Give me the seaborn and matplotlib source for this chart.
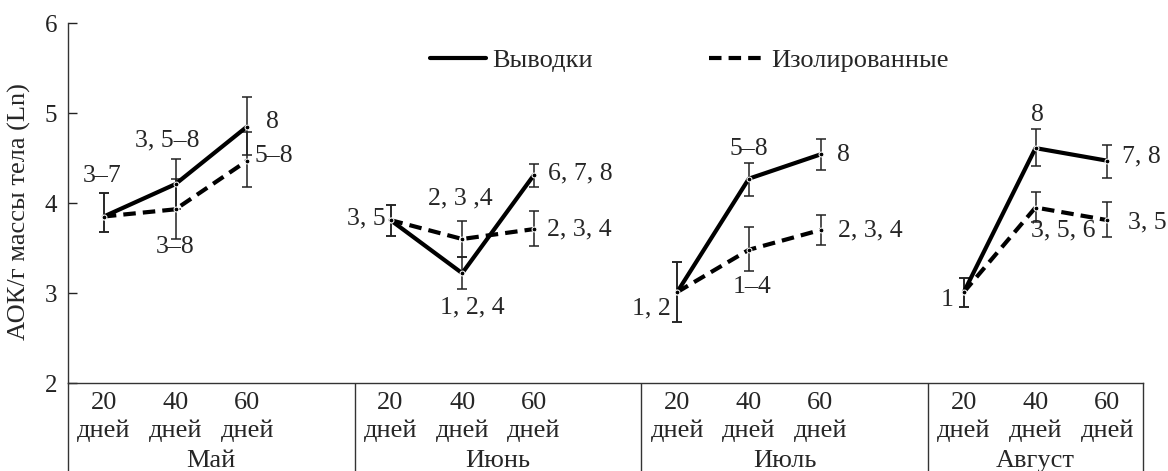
import numpy as np
import pandas as pd
import seaborn as sns
import matplotlib.pyplot as plt
from matplotlib.lines import Line2D

sns.set_style('white')
plt.rcParams['font.family'] = ['Liberation Serif', 'DejaVu Serif']

# --- data ---
months = ['Май', 'Июнь', 'Июль', 'Август']
days = ['20', '40', '60']
groups = ['Выводки', 'Изолированные']

brood_mean = [3.85, 4.21, 4.85, 3.81, 3.22, 4.31, 3.01, 4.27, 4.54, 3.01, 4.61, 4.47]
brood_lo = [3.68, 3.93, 4.53, 3.63, 3.04, 4.18, 2.68, 4.08, 4.37, 2.85, 4.41, 4.28]
brood_hi = [4.11, 4.49, 5.18, 3.98, 3.40, 4.43, 3.34, 4.45, 4.71, 3.17, 4.82, 4.64]

iso_mean = [3.85, 3.93, 4.47, 3.81, 3.60, 3.71, 3.01, 3.48, 3.70, 3.01, 3.95, 3.81]
iso_lo = [3.68, 3.60, 4.18, 3.63, 3.40, 3.52, 2.68, 3.25, 3.53, 2.85, 3.79, 3.62]
iso_hi = [4.11, 4.27, 4.79, 3.98, 3.80, 3.91, 3.34, 3.73, 3.87, 3.17, 4.12, 4.01]

brood_notes = ['3\u20137', '3, 5\u20138', '8', '3, 5', '1, 2, 4', '6, 7, 8',
               '1, 2', '5\u20138', '8', '1', '8', '7, 8']
iso_notes = ['', '3\u20138', '5\u20138', '', '2, 3 ,4', '2, 3, 4',
             '', '1\u20134', '2, 3, 4', '', '3, 5, 6', '3, 5']

# label placement (pixel offsets from the point, alignment)
brood_off = [(-2, 40, 'center'), (-8, 44, 'center'), (25, 5, 'center'), (-5, 2, 'right'),
             (10, -34, 'center'), (14, 2, 'left'), (-6, -16, 'right'), (0, 30, 'center'),
             (17, -1, 'left'), (-10, -8, 'right'), (2, 33, 'center'), (15, 4, 'left')]
iso_off = [None, (0, -38, 'center'), (27, 5, 'center'), None,
           (-2, 41, 'center'), (13, 0, 'left'), None, (3, -37, 'center'),
           (18, 0, 'left'), None, (28, -23, 'center'), (21, -2, 'left')]

SLOTS = 4  # 3 ages + a gap per month
FS = 18.5


def build_frame():
    rows = []
    for g, means in zip(groups, [brood_mean, iso_mean]):
        for i, v in enumerate(means):
            m, d = divmod(i, len(days))
            rows.append({'group': g, 'month': months[m], 'day': days[d],
                         'pos': m * SLOTS + d + 0.5, 'value': v})
    return pd.DataFrame(rows)


def main():
    df = build_frame()
    W, H = 1168, 471
    fig = plt.figure(figsize=(W / 100, H / 100), dpi=100)
    ax = fig.add_axes([68 / W, 88 / H, 1075 / W, 360 / H])
    tab = fig.add_axes([68 / W, 0, 1075 / W, 88 / H])

    sns.lineplot(data=df, x='pos', y='value', hue='group', style='group',
                 units='month', estimator=None,
                 palette={groups[0]: 'black', groups[1]: 'black'},
                 dashes={groups[0]: '', groups[1]: (3, 1.7)},
                 markers={groups[0]: 'o', groups[1]: 'o'}, markersize=3.5,
                 linewidth=3.0, legend=False, ax=ax)

    series = [(brood_mean, brood_lo, brood_hi, brood_notes, brood_off),
              (iso_mean, iso_lo, iso_hi, iso_notes, iso_off)]
    for g, (mean, lo, hi, notes, offs) in zip(groups, series):
        sub = df[df['group'] == g]
        mean = np.array(mean)
        yerr = [mean - np.array(lo), np.array(hi) - mean]
        ax.errorbar(sub['pos'], mean, yerr=yerr, fmt='none', ecolor='#222222',
                    elinewidth=1.1, capsize=3.6, capthick=1.1, zorder=1)
        for x, y, txt, off in zip(sub['pos'], mean, notes, offs):
            if not txt:
                continue
            dx, dy, ha = off
            ax.annotate(txt, xy=(x, y), xytext=(dx, dy), textcoords='offset pixels',
                        ha=ha, va='center', fontsize=FS)

    n_pos = len(months) * SLOTS - 1
    ax.set_xlim(0, n_pos)
    ax.set_ylim(2, 6)
    ax.set_yticks([2, 3, 4, 5, 6])
    ax.set_xticks([])
    ax.set_xlabel('')
    ax.set_ylabel('АОК/г массы тела (Ln)', fontsize=19)
    ax.yaxis.set_label_coords(-0.034, 0.475)
    ax.tick_params(axis='y', direction='in', length=6.5, width=1, pad=8,
                   labelsize=18, colors='#222222', left=True)
    for s in ['top', 'right']:
        ax.spines[s].set_visible(False)
    for s in ['left', 'bottom']:
        ax.spines[s].set_color('#333333')
        ax.spines[s].set_linewidth(1)

    handles = [Line2D([], [], color='black', lw=3.0),
               Line2D([], [], color='black', lw=3.0, dashes=(3, 1.7))]
    ax.legend(handles, groups, loc='center', bbox_to_anchor=(0.578, 0.897),
              ncol=2, frameon=False, fontsize=19, handlelength=2.1,
              handletextpad=0.25, columnspacing=4.4)

    # table of ages and months below the plot
    tab.set_xlim(0, n_pos)
    tab.set_ylim(0, 88)
    tab.set_xticks([])
    tab.set_yticks([])
    tab.patch.set_alpha(0)
    for s in ['top', 'bottom']:
        tab.spines[s].set_visible(False)
    for s in ['left', 'right']:
        tab.spines[s].set_color('#333333')
        tab.spines[s].set_linewidth(1)
    for m, name in enumerate(months):
        if m > 0:
            tab.axvline(m * SLOTS, color='#333333', lw=1)
        for d, day in enumerate(days):
            x = m * SLOTS + d + 0.5
            tab.text(x, 62, day, ha='center', va='baseline', fontsize=19)
            tab.text(x, 34, 'дней', ha='center', va='baseline', fontsize=19)
        tab.text(m * SLOTS + (len(days) + 1) / 2 if m < 3 else m * SLOTS + len(days) / 2,
                 4, name, ha='center', va='baseline', fontsize=19)

    fig.savefig('out.png', dpi=100)
    plt.close(fig)


if __name__ == '__main__':
    main()
